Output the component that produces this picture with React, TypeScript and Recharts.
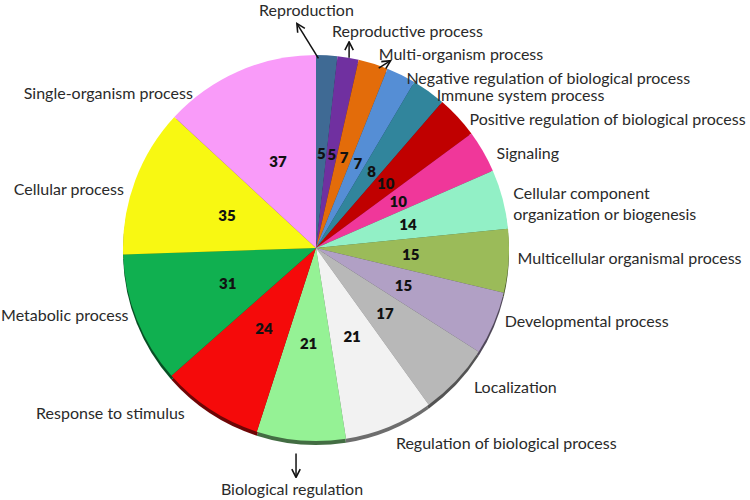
import React from 'react';
import { PieChart, Pie, Cell } from 'recharts';

// GO biological process categories, clockwise from 12 o'clock
const categories = [
  'Reproduction',
  'Reproductive process',
  'Multi-organism process',
  'Negative regulation of biological process',
  'Immune system process',
  'Positive regulation of biological process',
  'Signaling',
  'Cellular component organization or biogenesis',
  'Multicellular organismal process',
  'Developmental process',
  'Localization',
  'Regulation of biological process',
  'Biological regulation',
  'Response to stimulus',
  'Metabolic process',
  'Cellular process',
  'Single-organism process',
];

const geneCounts = [5, 5, 7, 7, 8, 10, 10, 14, 15, 15, 17, 21, 21, 24, 31, 35, 37];

const sliceColors = [
  '#3f6a94', '#7030a0', '#e36c0a', '#558ed5', '#31859c', '#c00000',
  '#f0379a', '#92f0c6', '#9bbb59', '#b1a0c5', '#b8b8b8', '#f2f2f2',
  '#95f295', '#f50a0a', '#10b050', '#f8f812', '#f99bf9',
];

const data = categories.map((name, i) => ({ name, value: geneCounts[i] }));

const RAD = Math.PI / 180;
const CX = 316;
const CY = 248;
const R = 193;

function polar(cx: number, cy: number, r: number, angle: number) {
  return [cx + r * Math.cos(-angle * RAD), cy + r * Math.sin(-angle * RAD)];
}

function darken(hex: string, f: number) {
  const n = parseInt(hex.slice(1), 16);
  const r = Math.round(((n >> 16) & 255) * f);
  const g = Math.round(((n >> 8) & 255) * f);
  const b = Math.round((n & 255) * f);
  return `rgb(${r},${g},${b})`;
}

// label placement tweaks relative to a point just outside each slice
type Lay = { dx: number; dy: number; anchor?: string; arrow?: number[] };
const labelLayout: Lay[] = [
  { dx: -21, dy: -34, anchor: 'middle', arrow: [-9, 15, -30, -19] },
  { dx: -18, dy: -15, anchor: 'start', arrow: [-1, 12, -1, -3] },
  { dx: 2, dy: 1, anchor: 'start', arrow: [2, 16, 13, 9] },
  { dx: 0, dy: 13 },
  { dx: 1, dy: 13 },
  { dx: 3, dy: 10 },
  { dx: 3, dy: 7 },
  { dx: -1, dy: 8 },
  { dx: -3, dy: -4 },
  { dx: 0, dy: -8 },
  { dx: 9, dy: -2 },
  { dx: 2, dy: 5 },
  { dx: -8, dy: 36, anchor: 'middle', arrow: [-4, 1, -4, 24] },
  { dx: -19, dy: -7 },
  { dx: 3, dy: -9 },
  { dx: 0, dy: 12 },
  { dx: -41, dy: 32 },
];

const labelFont = 'Lato, "Open Sans", sans-serif';

function renderLabel(props: any) {
  const { cx, cy, midAngle, outerRadius, index, value, name } = props;
  const [nx, ny] = polar(cx, cy, 95, midAngle);
  const [bx, by] = polar(cx, cy, outerRadius + 12, midAngle);
  const lay = labelLayout[index];
  const right = Math.cos(-midAngle * RAD) >= 0;
  const anchor = lay.anchor || (right ? 'start' : 'end');
  const tx = bx + lay.dx;
  const ty = by + lay.dy;
  const twoLines = name === 'Cellular component organization or biogenesis';
  return (
    <g key={`lbl-${index}`}>
      <text x={nx} y={ny} textAnchor="middle" dominantBaseline="central"
        fontFamily={labelFont} fontWeight={800} fontSize={15} fill="#111">
        {value}
      </text>
      {lay.arrow && (
        <line
          x1={bx + lay.arrow[0]} y1={by + lay.arrow[1]}
          x2={bx + lay.arrow[2]} y2={by + lay.arrow[3]}
          stroke="#111" strokeWidth={1.5} markerEnd="url(#arrowhead)"
        />
      )}
      {twoLines ? (
        <text x={tx} y={ty} textAnchor={anchor} fontFamily={labelFont} fontSize={16} fill="#2a2a2a">
          <tspan x={tx} dy={-5}>Cellular component</tspan>
          <tspan x={tx} dy={21}>organization or biogenesis</tspan>
        </text>
      ) : (
        <text x={tx} y={ty} textAnchor={anchor} dominantBaseline="central"
          fontFamily={labelFont} fontSize={16} fill="#2a2a2a">
          {name}
        </text>
      )}
    </g>
  );
}

export default function App() {
  return (
    <div style={{ position: 'absolute', left: 0, top: 0, width: 750, height: 500, background: '#fff' }}>
      <PieChart width={750} height={500} margin={{ top: 0, right: 0, bottom: 0, left: 0 }}>
        <defs>
          <marker id="arrowhead" viewBox="0 0 10 10" refX="8" refY="5" markerWidth="7" markerHeight="7" orient="auto-start-reverse">
            <path d="M1,1 L9,5 L1,9" fill="none" stroke="#111" strokeWidth={1.5} />
          </marker>
        </defs>
        {/* darker rim underneath for the slight 3D edge */}
        <Pie
          data={data}
          dataKey="value"
          cx={CX}
          cy={CY + 4}
          outerRadius={R}
          startAngle={90}
          endAngle={-270}
          stroke="none"
          isAnimationActive={false}
          label={false}
          labelLine={false}
        >
          {data.map((d, i) => (
            <Cell key={`rim-${i}`} fill={darken(sliceColors[i], 0.45)} />
          ))}
        </Pie>
        <Pie
          data={data}
          dataKey="value"
          cx={CX}
          cy={CY}
          outerRadius={R}
          startAngle={90}
          endAngle={-270}
          stroke="none"
          isAnimationActive={false}
          label={renderLabel}
          labelLine={false}
        >
          {data.map((d, i) => (
            <Cell key={`cell-${i}`} fill={sliceColors[i]} />
          ))}
        </Pie>
      </PieChart>
    </div>
  );
}
